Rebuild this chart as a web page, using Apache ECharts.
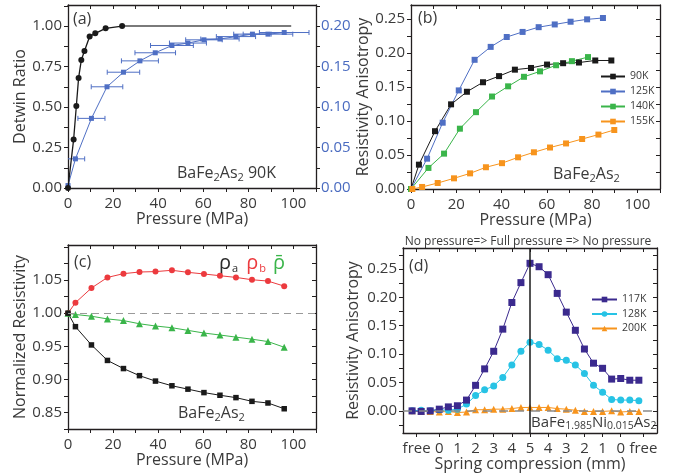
<!DOCTYPE html>
<html><head><meta charset="utf-8">
<script src="https://cdn.jsdelivr.net/npm/echarts@6/dist/echarts.min.js"></script>
<style>html,body{margin:0;padding:0;background:#fff}#c{width:685px;height:476px}</style>
</head><body><div id="c"></div>
<script>
// ---------- Panel (a) ----------
const detwinP = [0, 2.5, 3.7, 4.7, 5.9, 7.3, 9.6, 12.1, 16.7, 24];
const detwinR = [0, 0.30, 0.506, 0.68, 0.79, 0.846, 0.936, 0.955, 0.986, 1.0];
const plateauP = [24, 99];
const plateauR = [1.0, 1.0];
const anisoAP = [0, 3.3, 10.4, 17.3, 24.6, 31.9, 38.7, 46.1, 53.2, 60.3, 67.4, 74.5, 81.8, 88.7, 95.9];
const anisoAV = [0.003, 0.036, 0.086, 0.125, 0.143, 0.157, 0.167, 0.176, 0.179, 0.183, 0.184, 0.187, 0.190, 0.190, 0.192];
const anisoAErr = [0, 4.1, 6, 7, 7.2, 8.2, 9, 9.5, 8.2, 8.1, 8.5, 8.7, 8.3, 11, 11];
// ---------- Panel (b) ----------
const pB90 = [0, 3.5, 10.6, 17.7, 24.7, 31.8, 38.9, 45.9, 53, 60.1, 67.2, 74.2, 81.4, 88.5];
const vB90 = [0, 0.0358, 0.085, 0.1245, 0.143, 0.157, 0.166, 0.1755, 0.178, 0.183, 0.185, 0.186, 0.189, 0.189];
const pB125 = [0, 7.1, 14, 21.1, 28.1, 35.2, 42.3, 49.3, 56.4, 63.5, 70.5, 77.8, 84.8];
const vB125 = [0, 0.0446, 0.0975, 0.145, 0.19, 0.209, 0.2235, 0.231, 0.238, 0.242, 0.246, 0.2495, 0.2515];
const pB140 = [0, 7.7, 14.6, 21.6, 28.7, 35.8, 42.9, 49.9, 57, 64.1, 71.1, 78.2];
const vB140 = [0, 0.031, 0.052, 0.0887, 0.113, 0.136, 0.151, 0.165, 0.173, 0.182, 0.188, 0.194];
const pB155 = [0.6, 4.9, 11.8, 19, 26.1, 33.1, 40.2, 47.3, 54.3, 61.4, 68.5, 75.6, 82.8, 89.8];
const vB155 = [0, 0.003, 0.0088, 0.0157, 0.023, 0.032, 0.038, 0.0466, 0.054, 0.061, 0.067, 0.0735, 0.080, 0.0868];
// ---------- Panel (c) ----------
const pC = [0, 3.3, 10.4, 17.5, 24.6, 31.7, 38.8, 46.1, 53.2, 60.3, 67.4, 74.5, 81.6, 88.7, 95.9];
const rhoB = [1.0, 1.0158, 1.038, 1.054, 1.0597, 1.0622, 1.0628, 1.0648, 1.0617, 1.0592, 1.0566, 1.054, 1.0505, 1.0485, 1.0408];
const rhoAvg = [1.0, 0.998, 0.9954, 0.9913, 0.9888, 0.984, 0.9806, 0.978, 0.974, 0.970, 0.967, 0.9638, 0.9607, 0.9571, 0.9485];
const rhoA = [1.0, 0.9796, 0.952, 0.9286, 0.9163, 0.9056, 0.8974, 0.8903, 0.8852, 0.880, 0.876, 0.8724, 0.8668, 0.8643, 0.8556];
// ---------- Panel (d) ----------
const stepD = [0, 1, 2, 3, 4, 5, 6, 7, 8, 9, 10, 11, 12, 13, 14, 15, 16, 17, 18, 19, 20, 21, 22, 23, 24, 25];
const v117 = [0, -0.001, 0, 0.003, 0.007, 0.009, 0.019, 0.045, 0.074, 0.105, 0.144, 0.191, 0.226, 0.26, 0.254, 0.24, 0.207, 0.174, 0.142, 0.109, 0.084, 0.075, 0.056, 0.057, 0.054, 0.054];
const v128 = [0, 0.001, 0, 0.002, 0.001, 0.003, 0.012, 0.027, 0.037, 0.044, 0.059, 0.081, 0.105, 0.121, 0.117, 0.107, 0.092, 0.089, 0.081, 0.066, 0.045, 0.033, 0.020, 0.019, 0.019, 0.018];
const v200 = [0, -0.001, -0.001, -0.002, -0.001, -0.003, -0.002, 0.002, 0.002, 0.003, 0.003, 0.004, 0.006, 0.006, 0.006, 0.006, 0.004, 0.003, 0.001, -0.001, -0.001, -0.001, 0, -0.002, -0.001, -0.001];
const stepTickPos = [0.5, 3, 5, 7, 9, 11, 13, 15, 17, 19, 21, 23, 25.5];
const stepTickLbl = ['free', '0', '1', '2', '3', '4', '5', '4', '3', '2', '1', '0', 'free'];

// ---------- tick positions ----------
const pressLabels = [0, 20, 40, 60, 80, 100];
const pressTicks = [0, 10, 20, 30, 40, 50, 60, 70, 80, 90, 100, 110];
const detwinLabels = [0, 0.25, 0.5, 0.75, 1.0];
const detwinTicks = [0, 0.125, 0.25, 0.375, 0.5, 0.625, 0.75, 0.875, 1.0, 1.125];
const rightALabels = [0, 0.05, 0.10, 0.15, 0.20];
const rightATicks = [0, 0.025, 0.05, 0.075, 0.10, 0.125, 0.15, 0.175, 0.20, 0.225];
const anisoBLabels = [0, 0.05, 0.10, 0.15, 0.20, 0.25];
const anisoBTicks = [0, 0.025, 0.05, 0.075, 0.10, 0.125, 0.15, 0.175, 0.20, 0.225, 0.25];
const normLabels = [0.85, 0.90, 0.95, 1.00, 1.05];
const normTicks = [0.825, 0.85, 0.875, 0.90, 0.925, 0.95, 0.975, 1.00, 1.025, 1.05, 1.075, 1.10];
const anisoDLabels = [0, 0.05, 0.10, 0.15, 0.20, 0.25];
const anisoDTicks = [-0.025, 0, 0.025, 0.05, 0.075, 0.10, 0.125, 0.15, 0.175, 0.20, 0.225, 0.25, 0.275];

const FONT = 'Open Sans';
const AX = '#231f20';
const TXT = '#3a3a3a';
const BLACK = '#1a1a1a';
const BLUE = '#4f6fc4';
const BLUE_LBL = '#4a6bc0';
const GREEN = '#3ab54a';
const ORANGE = '#f7941d';
const RED = '#ec3a3e';
const PURPLE = '#3b2a8e';
const CYAN = '#27c3e5';

function axis(o) {
  return {
    type: 'value', gridIndex: o.g, min: o.min, max: o.max, position: o.pos,
    axisLine: {show: true, onZero: false, lineStyle: {color: AX, width: 1.3}},
    axisTick: {show: true, inside: !!o.inside, length: o.len || 4, customValues: o.ticks, lineStyle: {color: AX, width: 1}},
    axisLabel: o.labels ? {show: true, customValues: o.labels, formatter: o.fmt, margin: o.margin,
      color: o.color || TXT, fontFamily: FONT, fontSize: 15} : {show: false},
    splitLine: {show: false},
    name: o.name || '', nameLocation: 'middle', nameGap: o.nameGap || 0,
    nameTextStyle: {fontFamily: FONT, fontSize: 16, color: TXT}
  };
}
const f2 = v => v.toFixed(2);
const fInt = v => String(Math.round(v));
const fStep = v => { const i = stepTickPos.findIndex(p => Math.abs(p - v) < 1e-6); return i >= 0 ? stepTickLbl[i] : ''; };
const pairs = (xs, ys) => xs.map((x, i) => [x, ys[i]]);

const xAxes = [
  axis({g: 0, min: 0, max: 110, pos: 'bottom', ticks: pressTicks, labels: pressLabels, fmt: fInt, margin: 8, name: 'Pressure (MPa)', nameGap: 22}),
  axis({g: 0, min: 0, max: 110, pos: 'top', ticks: pressTicks, inside: true}),
  axis({g: 1, min: 0, max: 110, pos: 'bottom', ticks: pressTicks, labels: pressLabels, fmt: fInt, margin: 8, name: 'Pressure (MPa)', nameGap: 21}),
  axis({g: 1, min: 0, max: 110, pos: 'top', ticks: pressTicks, inside: true}),
  axis({g: 2, min: 0, max: 110, pos: 'bottom', ticks: pressTicks, labels: pressLabels, fmt: fInt, margin: 8, name: 'Pressure (MPa)', nameGap: 19}),
  axis({g: 2, min: 0, max: 110, pos: 'top', ticks: pressTicks, inside: true}),
  axis({g: 3, min: -1, max: 27, pos: 'bottom', ticks: stepTickPos, labels: stepTickPos, fmt: fStep, margin: 8, name: 'Spring compression (mm)', nameGap: 19}),
  axis({g: 3, min: -1, max: 27, pos: 'top', ticks: stepTickPos, inside: true})
];
const yAxes = [
  axis({g: 0, min: 0, max: 1.13, pos: 'left', ticks: detwinTicks, labels: detwinLabels, fmt: f2, margin: 6, name: 'Detwin Ratio', nameGap: 34}),
  axis({g: 0, min: 0, max: 0.226, pos: 'right', ticks: rightATicks, labels: rightALabels, fmt: f2, margin: 5, color: BLUE_LBL}),
  axis({g: 1, min: 0, max: 0.2706, pos: 'left', ticks: anisoBTicks, labels: anisoBLabels, fmt: f2, margin: 6, name: 'Resistivity Anisotropy', nameGap: 35}),
  axis({g: 1, min: 0, max: 0.2706, pos: 'right', ticks: anisoBTicks, inside: true}),
  axis({g: 2, min: 0.825, max: 1.103, pos: 'left', ticks: normTicks, labels: normLabels, fmt: f2, margin: 6, name: 'Normalized Resistivity', nameGap: 38}),
  axis({g: 2, min: 0.825, max: 1.103, pos: 'right', ticks: normTicks, inside: true}),
  axis({g: 3, min: -0.039, max: 0.287, pos: 'left', ticks: anisoDTicks, labels: anisoDLabels, fmt: f2, margin: 6, name: 'Resistivity Anisotropy', nameGap: 42}),
  axis({g: 3, min: -0.039, max: 0.287, pos: 'right', ticks: anisoDTicks, inside: true})
];

function line(name, xi, data, color, symbol, size, extra) {
  return Object.assign({
    type: 'line', name: name, xAxisIndex: xi, yAxisIndex: xi, data: data,
    symbol: symbol, symbolSize: size, showSymbol: true,
    lineStyle: {color: color, width: 1}, itemStyle: {color: color},
    emphasis: {disabled: true}, animation: false, z: 3
  }, extra || {});
}

const errBars = {
  type: 'custom', xAxisIndex: 0, yAxisIndex: 1, silent: true, z: 2, animation: false,
  data: anisoAP.map((p, i) => [p, anisoAV[i], anisoAErr[i]]),
  encode: {x: 0, y: 1},
  renderItem: function (params, api) {
    const x = api.value(0), y = api.value(1), e = api.value(2);
    if (!e) return null;
    const cs = params.coordSys;
    const l = api.coord([x - e, y]), r = api.coord([x + e, y]);
    const lx = Math.max(l[0], cs.x), rx = Math.min(r[0], cs.x + cs.width);
    const h = 2.5, st = {stroke: BLUE, lineWidth: 1};
    const ch = [{type: 'line', shape: {x1: lx, y1: l[1], x2: rx, y2: r[1]}, style: st}];
    if (l[0] >= cs.x) ch.push({type: 'line', shape: {x1: l[0], y1: l[1] - h, x2: l[0], y2: l[1] + h}, style: st});
    if (r[0] <= cs.x + cs.width) ch.push({type: 'line', shape: {x1: r[0], y1: r[1] - h, x2: r[0], y2: r[1] + h}, style: st});
    return {type: 'group', children: ch};
  }
};

const series = [
  // (a)
  line('detwin', 0, pairs(detwinP, detwinR), BLACK, 'circle', 6, {lineStyle: {color: BLACK, width: 1.3}, z: 4}),
  line('plateau', 0, pairs(plateauP, plateauR), '#7a7a7a', 'none', 0, {lineStyle: {color: '#7a7a7a', width: 2}}),
  errBars,
  Object.assign(line('anisoA', 0, pairs(anisoAP, anisoAV), BLUE, 'rect', 5), {yAxisIndex: 1}),
  // (b)
  line('90K', 2, pairs(pB90, vB90), BLACK, 'rect', 6),
  line('125K', 2, pairs(pB125, vB125), BLUE, 'rect', 6),
  line('140K', 2, pairs(pB140, vB140), GREEN, 'rect', 6),
  line('155K', 2, pairs(pB155, vB155), ORANGE, 'rect', 6),
  // (c)
  line('rhoB', 4, pairs(pC, rhoB), RED, 'circle', 6, {
    markLine: {silent: true, symbol: 'none', label: {show: false}, animation: false,
      lineStyle: {color: '#9a9a9a', type: [7, 5], width: 1}, data: [{yAxis: 1.0}]}
  }),
  line('rhoAvg', 4, pairs(pC, rhoAvg), GREEN, 'triangle', 7),
  line('rhoA', 4, pairs(pC, rhoA), BLACK, 'rect', 5.5),
  // (d)
  line('200K', 6, pairs(stepD, v200), ORANGE, 'triangle', 7, {
    markLine: {silent: true, symbol: 'none', label: {show: false}, animation: false,
      lineStyle: {color: '#8a8a8a', type: [9, 7], width: 1.6}, data: [{yAxis: 0}]}
  }),
  line('128K', 6, pairs(stepD, v128), CYAN, 'circle', 7),
  line('117K', 6, pairs(stepD, v117), PURPLE, 'rect', 7, {
    markLine: {silent: true, symbol: 'none', label: {show: false}, animation: false,
      lineStyle: {color: BLACK, type: 'solid', width: 1.5}, data: [{xAxis: 13}]}
  })
];

const subRich = {
  m: {fontFamily: FONT, fontSize: 16, fill: TXT, lineHeight: 20},
  s: {fontFamily: FONT, fontSize: 11, fill: TXT, lineHeight: 11, verticalAlign: 'bottom'}
};
const subRichSmall = {
  m: {fontFamily: FONT, fontSize: 15, fill: TXT, lineHeight: 19},
  s: {fontFamily: FONT, fontSize: 10.5, fill: TXT, lineHeight: 10, verticalAlign: 'bottom'}
};
function txt(x, y, text, size, color, extra) {
  return Object.assign({type: 'text', x: x, y: y, silent: true,
    style: {text: text, fontFamily: FONT, fontSize: size, fill: color || TXT}}, extra || {});
}

const graphic = [
  txt(73, 11, '(a)', 16),
  txt(418, 10, '(b)', 16),
  txt(74, 254, '(c)', 16),
  txt(409, 258, '(d)', 16),
  {type: 'text', x: 177, y: 163, silent: true, style: {text: '{m|BaFe}{s|2}{m|As}{s|2}{m| 90K}', rich: subRich}},
  {type: 'text', x: 553, y: 164, silent: true, style: {text: '{m|BaFe}{s|2}{m|As}{s|2}', rich: subRich}},
  {type: 'text', x: 178, y: 403, silent: true, style: {text: '{m|BaFe}{s|2}{m|As}{s|2}', rich: subRich}},
  {type: 'text', x: 531, y: 413, silent: true, style: {text: '{m|BaFe}{s|1.985}{m|Ni}{s|0.015}{m|As}{s|2}', rich: subRichSmall}},
  {type: 'text', x: 219, y: 252, silent: true, style: {
    text: '{a|ρ}{as|a}{b|ρ}{bs|b}{c|ρ\u0304}',
    rich: {
      a: {fontFamily: FONT, fontSize: 20, fill: '#2b2b2b', lineHeight: 22},
      as: {fontFamily: FONT, fontSize: 11, fill: '#2b2b2b', lineHeight: 11, verticalAlign: 'bottom', padding: [0, 8, 0, 1]},
      b: {fontFamily: FONT, fontSize: 20, fill: RED, lineHeight: 22},
      bs: {fontFamily: FONT, fontSize: 11, fill: RED, lineHeight: 11, verticalAlign: 'bottom', padding: [0, 7, 0, 1]},
      c: {fontFamily: FONT, fontSize: 20, fill: GREEN, lineHeight: 22}
    }}},
  {type: 'text', x: 528, y: 242, silent: true, style: {text: 'No pressure=> Full pressure => No pressure',
    fontFamily: FONT, fontSize: 12, fill: TXT, align: 'center', verticalAlign: 'middle'}}
];

const legendCommon = {orient: 'vertical', padding: 0, itemWidth: 24, itemHeight: 7, itemGap: 4,
  textStyle: {fontFamily: FONT, fontSize: 10.5, color: TXT}, selectedMode: false, backgroundColor: 'transparent'};

const option = {
  animation: false,
  backgroundColor: '#fff',
  grid: [
    {left: 68, top: 5, width: 248, height: 183, containLabel: false},
    {left: 411, top: 5, width: 249, height: 184, containLabel: false},
    {left: 68, top: 245, width: 248, height: 184, containLabel: false},
    {left: 403, top: 248, width: 254, height: 185, containLabel: false}
  ],
  xAxis: xAxes,
  yAxis: yAxes,
  legend: [
    Object.assign({}, legendCommon, {data: ['90K', '125K', '140K', '155K'], left: 600, top: 71}),
    Object.assign({}, legendCommon, {data: ['117K', '128K', '200K'], left: 591, top: 294, itemWidth: 25, itemGap: 3.5})
  ],
  graphic: graphic,
  series: series
};

const chart = echarts.init(document.getElementById('c'), null, {renderer: 'canvas'});
chart.setOption(option);
</script>
</body></html>
